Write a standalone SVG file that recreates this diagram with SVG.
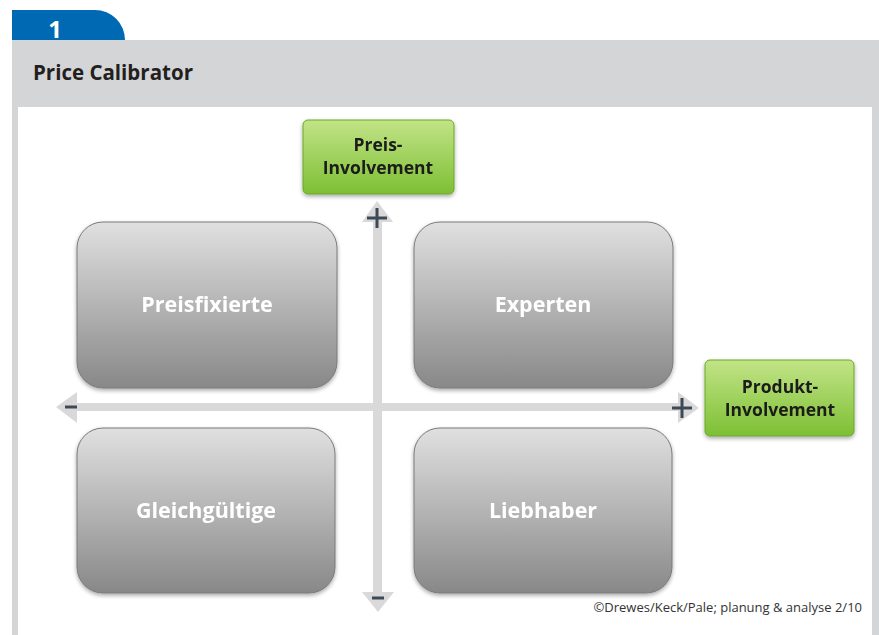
<svg xmlns="http://www.w3.org/2000/svg" width="879" height="635" viewBox="0 0 879 635">
<defs>
<linearGradient id="gGray" x1="0" y1="0" x2="0" y2="1">
<stop offset="0" stop-color="#e0e0e0"/>
<stop offset="0.5" stop-color="#b4b4b4"/>
<stop offset="1" stop-color="#888888"/>
</linearGradient>
<linearGradient id="gGreen" x1="0" y1="0" x2="0" y2="1">
<stop offset="0" stop-color="#c2e487"/>
<stop offset="1" stop-color="#7dbf34"/>
</linearGradient>
<filter id="sh" x="-10%" y="-10%" width="120%" height="125%">
<feGaussianBlur in="SourceAlpha" stdDeviation="2"/>
<feOffset dx="0" dy="2" result="b"/>
<feComponentTransfer><feFuncA type="linear" slope="0.35"/></feComponentTransfer>
<feMerge><feMergeNode/><feMergeNode in="SourceGraphic"/></feMerge>
</filter>
</defs>
<style>
.quad{fill:url(#gGray);stroke:#7a7a7a;stroke-width:1}
.qt{font-family:"Open Sans","Liberation Sans",sans-serif;font-weight:bold;font-size:21.5px;fill:#ffffff;text-anchor:middle}
.gbox{fill:url(#gGreen);stroke:#6aa82c;stroke-width:1}
.gt{font-family:"Open Sans","Liberation Sans",sans-serif;font-weight:bold;font-size:17.5px;fill:#1a1a1a;text-anchor:middle}
.axis{fill:#d9d9d9}
.sign{stroke:#3d4a55;stroke-width:3;fill:none}
</style>
<rect x="0" y="0" width="879" height="635" fill="#ffffff"/>
<path d="M12,40 V10 H95 A30,30 0 0 1 125,40 Z" fill="#0069b4"/>
<text x="55" y="38" font-family="Open Sans, Liberation Sans, sans-serif" font-weight="bold" font-size="24" fill="#ffffff" text-anchor="middle">1</text>
<rect x="12" y="40" width="867" height="595" fill="#d4d5d7"/>
<rect x="18" y="107" width="854" height="528" fill="#ffffff"/>
<text x="33" y="80" font-family="Open Sans, Liberation Sans, sans-serif" font-weight="bold" font-size="20.5" fill="#231f20">Price Calibrator</text>
<g id="connectors">
<rect class="axis" x="373" y="220" width="9" height="374"/>
<polygon class="axis" points="377,201 393,222 362,222"/>
<polygon class="axis" points="378,612 394,592 362,592"/>
<rect class="axis" x="75" y="403" width="605" height="8"/>
<polygon class="axis" points="56,407 77,392 77,423"/>
<polygon class="axis" points="699,408 678,392 678,423"/>
<path class="sign" d="M367,218 H387 M377,208 V228"/>
<path class="sign" d="M372,598 H384"/>
<path class="sign" d="M65,407 H77"/>
<path class="sign" d="M672,408 H692 M682,398 V418"/>
</g>
<g id="preisfixierte" filter="url(#sh)">
<rect class="quad" x="77" y="222" width="260" height="166" rx="26"/>
<text class="qt" x="207" y="312">Preisfixierte</text>
</g>
<g id="experten" filter="url(#sh)">
<rect class="quad" x="414" y="222" width="259" height="166" rx="26"/>
<text class="qt" x="543" y="312">Experten</text>
</g>
<g id="gleichgueltige" filter="url(#sh)">
<rect class="quad" x="77" y="428" width="258" height="165" rx="26"/>
<text class="qt" x="206" y="518">Gleichgültige</text>
</g>
<g id="liebhaber" filter="url(#sh)">
<rect class="quad" x="414" y="428" width="258" height="165" rx="26"/>
<text class="qt" x="543" y="518">Liebhaber</text>
</g>
<g id="preis-involvement" filter="url(#sh)">
<rect class="gbox" x="303" y="120" width="151" height="74" rx="5"/>
<text class="gt" x="378" y="151">Preis-</text>
<text class="gt" x="378" y="174">Involvement</text>
</g>
<g id="produkt-involvement" filter="url(#sh)">
<rect class="gbox" x="705" y="360" width="149" height="76" rx="5"/>
<text class="gt" x="780" y="393">Produkt-</text>
<text class="gt" x="780" y="416">Involvement</text>
</g>
<text x="862" y="612" font-family="Open Sans, Liberation Sans, sans-serif" font-size="13" fill="#333333" text-anchor="end">©Drewes/Keck/Pale; planung &amp; analyse 2/10</text>
</svg>
